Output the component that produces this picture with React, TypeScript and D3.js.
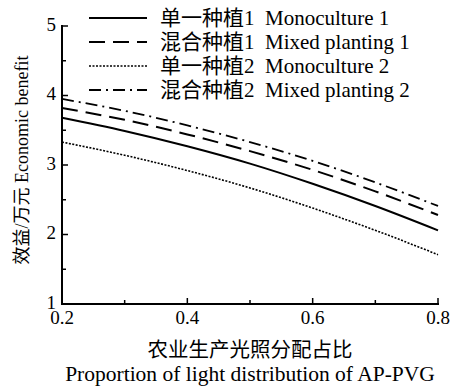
import React from "react";
import * as d3 from "d3";

const xValues = [0.2, 0.3, 0.4, 0.5, 0.6, 0.7, 0.8];
const mono1 = [3.68, 3.49, 3.27, 3.02, 2.73, 2.41, 2.06];
const mixed1 = [3.82, 3.65, 3.44, 3.2, 2.93, 2.62, 2.28];
const mono2 = [3.33, 3.14, 2.92, 2.67, 2.38, 2.06, 1.71];
const mixed2 = [3.95, 3.78, 3.57, 3.33, 3.06, 2.75, 2.41];

const seriesNames = [
  "单一种植1  Monoculture 1",
  "混合种植1  Mixed planting 1",
  "单一种植2  Monoculture 2",
  "混合种植2  Mixed planting 2",
];
const xTicks = [0.2, 0.4, 0.6, 0.8];
const xMinorTicks = [0.3, 0.5, 0.7];
const yTicks = [1, 2, 3, 4, 5];
const yMinorTicks = [1.5, 2.5, 3.5, 4.5];

const FONT = "'Liberation Serif', 'Times New Roman', 'Noto Sans CJK SC', serif";

export default function App() {
  const W = 452, H = 388;
  const x = d3.scaleLinear().domain([0.2, 0.8]).range([62, 438]);
  const y = d3.scaleLinear().domain([1, 5]).range([304, 26]);
  const line = d3
    .line<number>()
    .x((_, i) => x(xValues[i]))
    .y((d) => y(d))
    .curve(d3.curveMonotoneX);

  const series = [
    { data: mono1, dash: "none", w: 2 },
    { data: mixed1, dash: "16,8", w: 2 },
    { data: mono2, dash: "2,1.5", w: 1.6 },
    { data: mixed2, dash: "12,5,2,5", w: 1.8 },
  ];

  return (
    <svg
      width={W}
      height={H}
      style={{ position: "absolute", left: 0, top: 0, background: "#fff" }}
      fontFamily={FONT}
    >
      {series.map((s, i) => (
        <path
          key={i}
          d={line(s.data) || ""}
          fill="none"
          stroke="#000"
          strokeWidth={s.w}
          strokeDasharray={s.dash}
        />
      ))}
      {/* axes */}
      <line x1={62} x2={439} y1={304} y2={304} stroke="#000" strokeWidth={2} />
      <line x1={62} x2={62} y1={25} y2={305} stroke="#000" strokeWidth={2} />
      {xTicks.map((t) => (
        <g key={t}>
          <line x1={x(t)} x2={x(t)} y1={304} y2={298} stroke="#000" strokeWidth={1.5} />
          <text x={x(t)} y={324} fontSize={19} textAnchor="middle">
            {t.toFixed(1)}
          </text>
        </g>
      ))}
      {xMinorTicks.map((t) => (
        <line key={t} x1={x(t)} x2={x(t)} y1={304} y2={300} stroke="#000" strokeWidth={1.5} />
      ))}
      {yTicks.map((t) => (
        <g key={t}>
          <line x1={62} x2={68} y1={y(t)} y2={y(t)} stroke="#000" strokeWidth={1.5} />
          <text x={56} y={y(t) + 4.5} fontSize={19} textAnchor="end">
            {t}
          </text>
        </g>
      ))}
      {yMinorTicks.map((t) => (
        <line key={t} x1={62} x2={66} y1={y(t)} y2={y(t)} stroke="#000" strokeWidth={1.5} />
      ))}
      {/* legend */}
      {series.map((s, i) => {
        const ly = 18 + i * 24;
        return (
          <g key={i}>
            <line
              x1={89}
              x2={147}
              y1={ly}
              y2={ly}
              stroke="#000"
              strokeWidth={s.w}
              strokeDasharray={s.dash}
            />
            <text x={160} y={ly + 7} fontSize={21} style={{ whiteSpace: "pre" }}>
              {seriesNames[i]}
            </text>
          </g>
        );
      })}
      {/* axis titles */}
      <text x={250} y={357} fontSize={20.5} textAnchor="middle">
        农业生产光照分配占比
      </text>
      <text x={250} y={381} fontSize={21.5} textAnchor="middle">
        Proportion of light distribution of AP-PVG
      </text>
      <text
        transform="translate(28,160) rotate(-90)"
        fontSize={18}
        textAnchor="middle"
        style={{ whiteSpace: "pre" }}
      >
        效益/万元 Economic benefit
      </text>
    </svg>
  );
}
